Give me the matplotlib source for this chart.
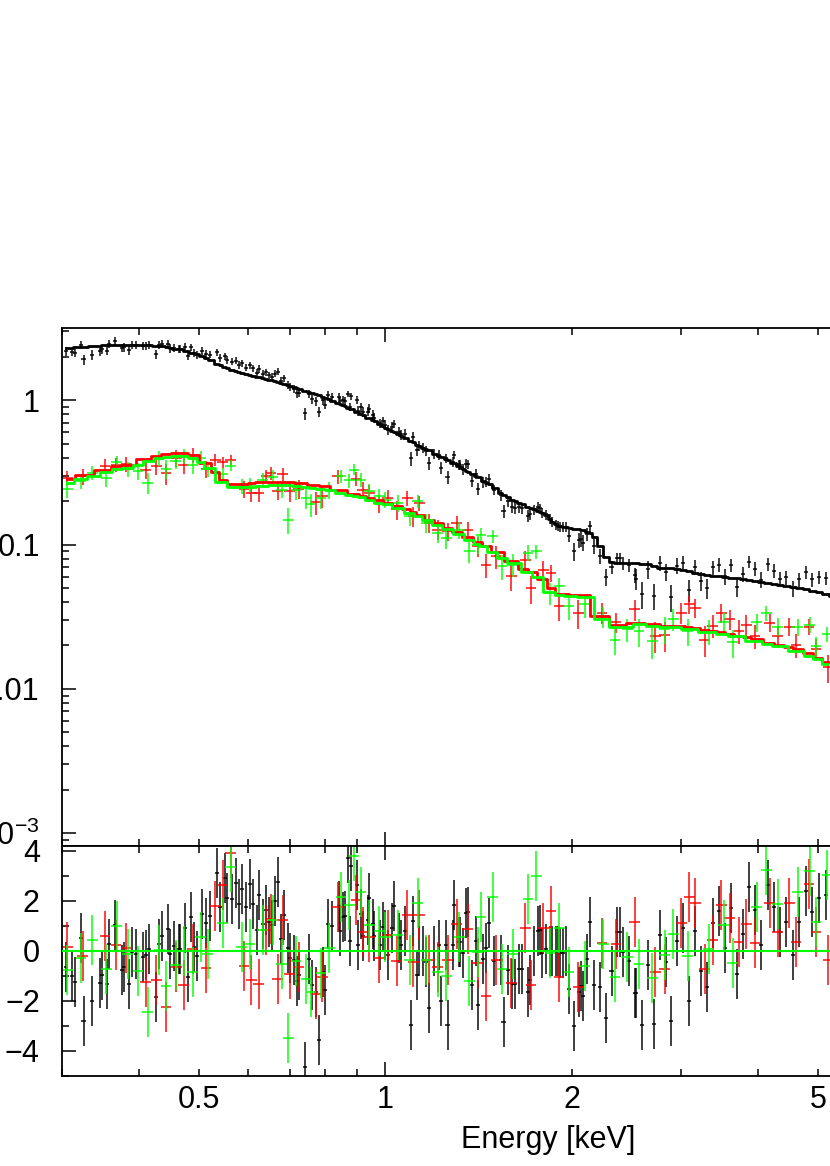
import numpy as np
import matplotlib
matplotlib.use("Agg")
import matplotlib.pyplot as plt
from matplotlib.ticker import FixedLocator, FuncFormatter, LogLocator, MultipleLocator

# ---- black spectrum: bin energy [keV], flux, 1-sigma error, folded model ----
black_e = [0.305, 0.315, 0.325, 0.335, 0.345, 0.355, 0.365, 0.375, 0.385, 0.395,
           0.405, 0.415, 0.425, 0.435, 0.445, 0.455, 0.465, 0.475, 0.485, 0.495,
           0.505, 0.52, 0.535, 0.55, 0.565, 0.58, 0.595, 0.61, 0.625, 0.64,
           0.655, 0.67, 0.685, 0.70, 0.72, 0.74, 0.76, 0.78, 0.80, 0.82,
           0.84, 0.86, 0.88, 0.90, 0.92, 0.94, 0.96, 0.98, 1.00, 1.025,
           1.05, 1.075, 1.10, 1.125, 1.15, 1.175, 1.20, 1.23, 1.26, 1.29,
           1.32, 1.35, 1.38, 1.41, 1.44, 1.47, 1.50, 1.54, 1.58, 1.62,
           1.66, 1.70, 1.74, 1.78, 1.82, 1.86, 1.90, 1.94, 1.98, 2.02,
           2.07, 2.12, 2.17, 2.22, 2.27, 2.32, 2.37, 2.42, 2.48, 2.54,
           2.60, 2.66, 2.72, 2.78, 2.84, 2.90, 2.96, 3.03, 3.10, 3.17,
           3.24, 3.31, 3.38, 3.46, 3.54, 3.62, 3.70, 3.78, 3.87, 3.96,
           4.05, 4.15, 4.25, 4.35, 4.45, 4.56, 4.67, 4.78, 4.90, 5.02,
           5.15, 5.28]
black_flux = [2.19, 2.13, 1.92, 2.06, 2.19, 2.20, 2.59, 2.31, 2.22, 2.41,
              2.38, 2.41, 2.09, 2.45, 2.45, 2.31, 2.26, 2.33, 2.33, 2.06,
              2.20, 2.07, 2.15, 2.01, 1.85, 1.76, 1.68, 1.66, 1.65, 1.56,
              1.46, 1.58, 1.42, 1.235, 1.115, 0.81, 1.02, 0.831, 0.932, 1.054,
              1.06, 0.993, 1.062, 1.003, 0.828, 0.876, 0.755, 0.693, 0.677, 0.654,
              0.603, 0.584, 0.395, 0.452, 0.469, 0.367, 0.424, 0.340, 0.293, 0.418,
              0.355, 0.364, 0.276, 0.243, 0.270, 0.285, 0.240, 0.219, 0.199, 0.180,
              0.179, 0.158, 0.175, 0.179, 0.162, 0.143, 0.135, 0.132, 0.115, 0.090,
              0.109, 0.119, 0.0976, 0.0836, 0.0599, 0.0697, 0.0806, 0.0744, 0.0717, 0.0578,
              0.0452, 0.0677, 0.0442, 0.0747, 0.0646, 0.0432, 0.0713, 0.0746, 0.0485, 0.0702,
              0.0560, 0.0502, 0.0695, 0.0725, 0.0604, 0.0721, 0.0512, 0.0627, 0.0760, 0.0682,
              0.0571, 0.0732, 0.0659, 0.0578, 0.0594, 0.0497, 0.0574, 0.0642, 0.0574, 0.0595,
              0.0585, 0.0567]
black_err = [0.149, 0.151, 0.153, 0.154, 0.155, 0.157, 0.158, 0.158, 0.158, 0.158,
             0.157, 0.156, 0.155, 0.153, 0.151, 0.148, 0.146, 0.143, 0.139, 0.136,
             0.131, 0.124, 0.116, 0.110, 0.106, 0.102, 0.098, 0.096, 0.094, 0.092,
             0.089, 0.087, 0.085, 0.082, 0.079, 0.076, 0.073, 0.071, 0.068, 0.064,
             0.062, 0.059, 0.057, 0.066, 0.063, 0.060, 0.058, 0.054, 0.052, 0.049,
             0.046, 0.044, 0.042, 0.039, 0.038, 0.036, 0.034, 0.032, 0.031, 0.029,
             0.028, 0.026, 0.025, 0.024, 0.022, 0.021, 0.020, 0.018, 0.017, 0.016,
             0.015, 0.0146, 0.014, 0.0134, 0.0129, 0.0114, 0.0108, 0.0106, 0.0105, 0.0129,
             0.0127, 0.0123, 0.0113, 0.0098, 0.0082, 0.0076, 0.0075, 0.0075, 0.0075, 0.0096,
             0.0096, 0.0095, 0.0092, 0.0090, 0.0089, 0.0089, 0.0088, 0.0087, 0.0085, 0.0083,
             0.0082, 0.0080, 0.0079, 0.0078, 0.0077, 0.0077, 0.0076, 0.0075, 0.0074, 0.0073,
             0.0072, 0.0071, 0.0070, 0.0069, 0.0067, 0.0066, 0.0065, 0.0064, 0.0062, 0.0061,
             0.0059, 0.0057]
black_model = [2.29, 2.32, 2.35, 2.37, 2.39, 2.41, 2.43, 2.43, 2.43, 2.43,
               2.42, 2.40, 2.38, 2.36, 2.32, 2.28, 2.25, 2.20, 2.14, 2.09,
               2.01, 1.90, 1.79, 1.69, 1.63, 1.57, 1.51, 1.48, 1.44, 1.41,
               1.37, 1.34, 1.30, 1.26, 1.21, 1.165, 1.12, 1.085, 1.04, 0.99,
               0.95, 0.91, 0.87, 0.83, 0.79, 0.75, 0.72, 0.68, 0.644, 0.61,
               0.58, 0.55, 0.52, 0.49, 0.47, 0.45, 0.425, 0.405, 0.385, 0.365,
               0.345, 0.325, 0.31, 0.295, 0.277, 0.262, 0.248, 0.226, 0.212, 0.201,
               0.19, 0.182, 0.175, 0.168, 0.161, 0.143, 0.135, 0.133, 0.131, 0.129,
               0.127, 0.123, 0.113, 0.098, 0.082, 0.0758, 0.075, 0.0748, 0.0747, 0.0742,
               0.0736, 0.073, 0.071, 0.069, 0.0686, 0.0683, 0.068, 0.0668, 0.0655, 0.0638,
               0.0628, 0.0618, 0.0609, 0.0602, 0.0596, 0.059, 0.0583, 0.0577, 0.057, 0.0562,
               0.0554, 0.0545, 0.0536, 0.0527, 0.0518, 0.0508, 0.0499, 0.0489, 0.0477, 0.0466,
               0.0453, 0.0442]

# extra black bins in the densely sampled 0.3-2.5 keV range
black_e2 = [0.311, 0.322, 0.348, 0.358, 0.378, 0.390, 0.41, 0.431, 0.448, 0.463,
            0.479, 0.491, 0.512, 0.540, 0.554, 0.573, 0.586, 0.603, 0.619, 0.635,
            0.649, 0.662, 0.678, 0.695, 0.711, 0.726, 0.753, 0.772, 0.792, 0.807,
            0.845, 0.853, 0.869, 0.877, 0.902, 0.913, 0.936, 0.954, 0.99, 1.009,
            1.034, 1.060, 1.107, 1.135, 1.161, 1.22, 1.254, 1.285, 1.314, 1.337,
            1.359, 1.402, 1.455, 1.552, 1.604, 1.647, 1.715, 1.764, 1.793, 1.843,
            1.884, 1.917, 1.96, 2.055, 2.09, 2.145, 2.393, 2.53]
black_flux2 = [2.16, 2.42, 2.25, 2.46, 2.33, 2.42, 2.38, 2.41, 2.29, 2.27,
               2.03, 2.13, 2.09, 1.96, 1.90, 1.88, 1.80, 1.75, 1.54, 1.52,
               1.49, 1.53, 1.36, 1.28, 1.20, 1.125, 1.11, 0.98, 1.00, 1.09,
               0.987, 1.007, 1.105, 0.897, 0.842, 0.897, 0.833, 0.791, 0.713, 0.624,
               0.685, 0.579, 0.56, 0.481, 0.445, 0.42, 0.396, 0.375, 0.359, 0.332,
               0.36, 0.308, 0.271, 0.171, 0.183, 0.182, 0.162, 0.182, 0.165, 0.15,
               0.138, 0.133, 0.132, 0.107, 0.103, 0.134, 0.0805, 0.0617]
black_err2 = [0.150, 0.152, 0.156, 0.157, 0.158, 0.158, 0.157, 0.154, 0.150, 0.147,
              0.142, 0.137, 0.127, 0.114, 0.109, 0.104, 0.101, 0.097, 0.095, 0.092,
              0.090, 0.088, 0.086, 0.083, 0.080, 0.078, 0.074, 0.072, 0.069, 0.066,
              0.061, 0.060, 0.058, 0.057, 0.066, 0.064, 0.061, 0.058, 0.053, 0.051,
              0.048, 0.045, 0.041, 0.039, 0.037, 0.033, 0.031, 0.029, 0.028, 0.027,
              0.026, 0.024, 0.0215, 0.0178, 0.0164, 0.0154, 0.0143, 0.0137, 0.0133, 0.012,
              0.011, 0.0107, 0.0106, 0.0128, 0.0126, 0.012, 0.0075, 0.0074]
black_model2 = [2.31, 2.34, 2.40, 2.42, 2.43, 2.43, 2.41, 2.37, 2.31, 2.26,
                2.18, 2.11, 1.95, 1.76, 1.67, 1.60, 1.55, 1.49, 1.46, 1.42,
                1.385, 1.355, 1.32, 1.27, 1.23, 1.20, 1.135, 1.10, 1.06, 1.02,
                0.94, 0.925, 0.89, 0.876, 0.826, 0.804, 0.758, 0.73, 0.662, 0.632,
                0.60, 0.568, 0.512, 0.482, 0.461, 0.412, 0.389, 0.368, 0.349, 0.334,
                0.32, 0.299, 0.269, 0.222, 0.205, 0.193, 0.179, 0.171, 0.166, 0.15,
                0.138, 0.134, 0.132, 0.128, 0.126, 0.12, 0.0749, 0.0743]

# ---- red spectrum ----
red_e = [0.306, 0.324, 0.352, 0.367, 0.381, 0.41, 0.426, 0.442, 0.459, 0.472,
         0.488, 0.513, 0.531, 0.546, 0.562, 0.591, 0.607, 0.624, 0.641, 0.653,
         0.67, 0.682, 0.70, 0.724, 0.772, 0.791, 0.837, 0.896, 0.919, 0.942,
         0.975, 1.009, 1.043, 1.085, 1.11, 1.135, 1.178, 1.215, 1.261, 1.304,
         1.359, 1.41, 1.455, 1.51, 1.597, 1.684, 1.72, 1.8, 1.853, 1.908,
         2.05, 2.24, 2.36, 2.53, 2.73, 2.83, 3.01, 3.1, 3.17, 3.28,
         3.38, 3.49, 3.6, 3.73, 3.83, 3.96, 4.18, 4.31, 4.5, 4.61,
         4.84, 4.97, 5.2]
red_flux = [0.29, 0.297, 0.353, 0.358, 0.362, 0.331, 0.353, 0.311, 0.399, 0.358,
            0.418, 0.335, 0.388, 0.372, 0.388, 0.243, 0.228, 0.228, 0.297, 0.311,
            0.234, 0.309, 0.234, 0.243, 0.196, 0.216, 0.297, 0.286, 0.24, 0.228,
            0.194, 0.211, 0.175, 0.211, 0.157, 0.194, 0.141, 0.127, 0.124, 0.141,
            0.127, 0.0976, 0.0725, 0.0832, 0.0604, 0.0788, 0.05, 0.067, 0.0636, 0.0375,
            0.0337, 0.0337, 0.029, 0.0355, 0.0233, 0.0235, 0.0337, 0.0385, 0.0365, 0.0219,
            0.0275, 0.0337, 0.0303, 0.0251, 0.0279, 0.0233, 0.0288, 0.0233, 0.027, 0.0203,
            0.027, 0.0188, 0.0141]
red_err = [0.034, 0.037, 0.040, 0.042, 0.043, 0.047, 0.049, 0.051, 0.052, 0.051,
           0.050, 0.044, 0.038, 0.034, 0.032, 0.032, 0.032, 0.032, 0.032, 0.032,
           0.032, 0.032, 0.038, 0.037, 0.036, 0.036, 0.033, 0.031, 0.030, 0.030,
           0.028, 0.027, 0.026, 0.025, 0.024, 0.023, 0.021, 0.020, 0.018, 0.017,
           0.016, 0.015, 0.014, 0.015, 0.013, 0.012, 0.011, 0.0099, 0.0085, 0.0078,
           0.0077, 0.0054, 0.0047, 0.0058, 0.0056, 0.0055, 0.0055, 0.0054, 0.0053, 0.0052,
           0.0051, 0.0049, 0.0048, 0.0047, 0.0046, 0.0044, 0.0042, 0.0041, 0.0039, 0.0038,
           0.0035, 0.0033, 0.0031]
red_model = [0.285, 0.305, 0.33, 0.349, 0.358, 0.39, 0.41, 0.425, 0.432, 0.428,
             0.415, 0.365, 0.32, 0.282, 0.263, 0.263, 0.266, 0.27, 0.27, 0.27,
             0.27, 0.27, 0.27, 0.267, 0.259, 0.254, 0.239, 0.223, 0.217, 0.211,
             0.202, 0.194, 0.186, 0.175, 0.168, 0.161, 0.149, 0.14, 0.131, 0.123,
             0.113, 0.105, 0.0976, 0.089, 0.077, 0.068, 0.065, 0.058, 0.05, 0.0458,
             0.045, 0.032, 0.0277, 0.0288, 0.028, 0.0275, 0.0275, 0.0268, 0.0264, 0.0258,
             0.0253, 0.0247, 0.0241, 0.0234, 0.0229, 0.022, 0.0208, 0.0203, 0.0195, 0.019,
             0.0176, 0.0163, 0.0153]

# ---- green spectrum ----
green_e = [0.306, 0.322, 0.336, 0.354, 0.368, 0.383, 0.398, 0.413, 0.431, 0.442,
           0.458, 0.472, 0.488, 0.503, 0.516, 0.546, 0.562, 0.586, 0.603, 0.633,
           0.657, 0.68, 0.697, 0.717, 0.744, 0.758, 0.787, 0.812, 0.848, 0.874,
           0.89, 0.913, 0.942, 0.978, 1.0, 1.047, 1.094, 1.128, 1.163, 1.215,
           1.254, 1.317, 1.367, 1.41, 1.428, 1.49, 1.543, 1.607, 1.7, 1.753,
           1.845, 1.91, 1.98, 2.1, 2.25, 2.35, 2.46, 2.57, 2.7, 2.83,
           2.92, 3.08, 3.33, 3.52, 3.64, 3.98, 4.13, 4.31, 4.64, 4.85,
           4.97, 5.18]
green_flux = [0.243, 0.275, 0.314, 0.29, 0.372, 0.335, 0.322, 0.268, 0.399, 0.335,
              0.382, 0.41, 0.358, 0.399, 0.335, 0.306, 0.353, 0.254, 0.26, 0.282,
              0.295, 0.24, 0.149, 0.24, 0.211, 0.19, 0.211, 0.24, 0.297, 0.279,
              0.331, 0.282, 0.234, 0.216, 0.205, 0.194, 0.157, 0.2, 0.141, 0.121,
              0.111, 0.127, 0.0897, 0.1, 0.117, 0.115, 0.0707, 0.0725, 0.0876, 0.0897,
              0.0463, 0.0515, 0.0375, 0.0385, 0.0318, 0.0219, 0.0259, 0.0251, 0.0215, 0.0259,
              0.0303, 0.0251, 0.0251, 0.029, 0.021, 0.029, 0.0337, 0.027, 0.027, 0.0279,
              0.0197, 0.024]
green_err = [0.032, 0.034, 0.036, 0.038, 0.040, 0.041, 0.043, 0.045, 0.048, 0.049,
             0.049, 0.049, 0.048, 0.045, 0.041, 0.032, 0.030, 0.030, 0.030, 0.031,
             0.031, 0.031, 0.031, 0.036, 0.035, 0.035, 0.034, 0.033, 0.032, 0.031,
             0.030, 0.030, 0.029, 0.027, 0.027, 0.025, 0.023, 0.022, 0.021, 0.019,
             0.018, 0.017, 0.015, 0.014, 0.014, 0.012, 0.014, 0.013, 0.011, 0.010,
             0.0080, 0.0076, 0.0074, 0.0073, 0.0052, 0.0046, 0.0046, 0.0056, 0.0055, 0.0054,
             0.0053, 0.0052, 0.0050, 0.0048, 0.0047, 0.0043, 0.0041, 0.0039, 0.0037, 0.0034,
             0.0032, 0.0030]
green_model = [0.268, 0.285, 0.298, 0.318, 0.332, 0.34, 0.357, 0.378, 0.398, 0.405,
               0.41, 0.41, 0.398, 0.375, 0.34, 0.27, 0.252, 0.25, 0.252, 0.256,
               0.257, 0.257, 0.257, 0.255, 0.25, 0.248, 0.242, 0.237, 0.228, 0.222,
               0.217, 0.212, 0.204, 0.195, 0.19, 0.178, 0.166, 0.158, 0.149, 0.137,
               0.129, 0.118, 0.108, 0.101, 0.098, 0.089, 0.081, 0.074, 0.065, 0.06,
               0.047, 0.0445, 0.0438, 0.043, 0.0305, 0.0268, 0.027, 0.0281, 0.0275, 0.0268,
               0.0267, 0.0262, 0.0248, 0.024, 0.0234, 0.0215, 0.0205, 0.0197, 0.0183, 0.017,
               0.016, 0.0149]

x_tick_labels = {0.5: "0.5", 1.0: "1", 2.0: "2", 5.0: "5"}
y_tick_labels = {1.0: "1", 0.1: "0.1", 0.01: "0.01", 0.001: r"$10^{-3}$"}

plt.rcParams["font.family"] = ["Liberation Sans", "DejaVu Sans"]
plt.rcParams["mathtext.default"] = "regular"


def merged(*pairs):
    # join the two black bin lists and put them in energy order
    cols = [np.concatenate([np.asarray(a), np.asarray(b)]) for a, b in pairs]
    order = np.argsort(cols[0])
    return [c[order] for c in cols]


bk_e, bk_f, bk_err, bk_mod = merged((black_e, black_e2), (black_flux, black_flux2),
                                    (black_err, black_err2), (black_model, black_model2))

W, H = 830, 1166
fig = plt.figure(figsize=(W / 100, H / 100), dpi=100)
# the original frame runs on past the right edge (out to 10 keV)
left, right = 62, 1004
ax_top = fig.add_axes([left / W, (H - 845.7) / H, (right - left) / W, (845.7 - 328.5) / H])
ax_res = fig.add_axes([left / W, (H - 1075.7) / H, (right - left) / W, 230 / H])

datasets = [
    (bk_e, bk_f, bk_err, bk_mod, "black", 0.0075),
    (red_e, red_flux, red_err, red_model, "#ff0000", 0.02),
    (green_e, green_flux, green_err, green_model, "#00ff00", 0.02),
]

for e, f, err, mod, col, hw in datasets:
    e = np.asarray(e)
    f = np.asarray(f)
    err = np.asarray(err)
    mod = np.asarray(mod)
    xerr = e * hw
    ax_top.errorbar(e, f, yerr=err, xerr=xerr, fmt="none", ecolor=col,
                    elinewidth=1.4, alpha=0.75, capsize=0, zorder=2)
    resid = (f - mod) / err
    ax_res.errorbar(e, resid, yerr=np.ones_like(resid), xerr=xerr, fmt="none",
                    ecolor=col, elinewidth=1.4, alpha=0.75, capsize=0, zorder=2)

for e, f, err, mod, col, hw in datasets:
    ax_top.plot(e, mod, drawstyle="steps-mid", color=col, lw=2.0, zorder=3)

ax_res.axhline(0, color="#00ff00", lw=1.5, zorder=4)

for ax in (ax_top, ax_res):
    ax.set_xscale("log")
    ax.set_xlim(0.3, 10)
    ax.xaxis.set_major_locator(FixedLocator([1, 10]))
    ax.xaxis.set_minor_locator(FixedLocator([0.3, 0.4, 0.5, 0.6, 0.7, 0.8, 0.9,
                                             2, 3, 4, 5, 6, 7, 8, 9]))
    fmt = FuncFormatter(lambda v, pos: x_tick_labels.get(round(v, 2), ""))
    ax.xaxis.set_major_formatter(fmt)
    ax.xaxis.set_minor_formatter(fmt)
    ax.tick_params(which="both", direction="in", top=True, right=True,
                   width=1.1, labelsize=22)
    ax.tick_params(which="major", length=10)
    ax.tick_params(which="minor", length=5)
    ax.tick_params(axis="y", which="both", pad=16)
    ax.tick_params(axis="x", which="both", pad=7)
    for sp in ax.spines.values():
        sp.set_linewidth(1.3)

ax_top.set_yscale("log")
ax_top.set_ylim(8.2e-4, 3.14)
ax_top.yaxis.set_major_locator(LogLocator(base=10, numticks=10))
ax_top.yaxis.set_minor_locator(LogLocator(base=10, subs=np.arange(2, 10), numticks=10))
ax_top.yaxis.set_major_formatter(FuncFormatter(lambda v, pos: y_tick_labels.get(float(f"{v:.0e}"), "")))
ax_top.tick_params(axis="x", which="both", labelbottom=False)

ax_res.set_ylim(-5, 4.2)
ax_res.yaxis.set_major_locator(MultipleLocator(2))
ax_res.yaxis.set_minor_locator(MultipleLocator(1))
ax_res.set_xlabel("Energy [keV]", fontsize=22)
ax_res.xaxis.set_label_coords((548 - left) / (right - left), -0.215)

fig.savefig("out.png", dpi=100)
